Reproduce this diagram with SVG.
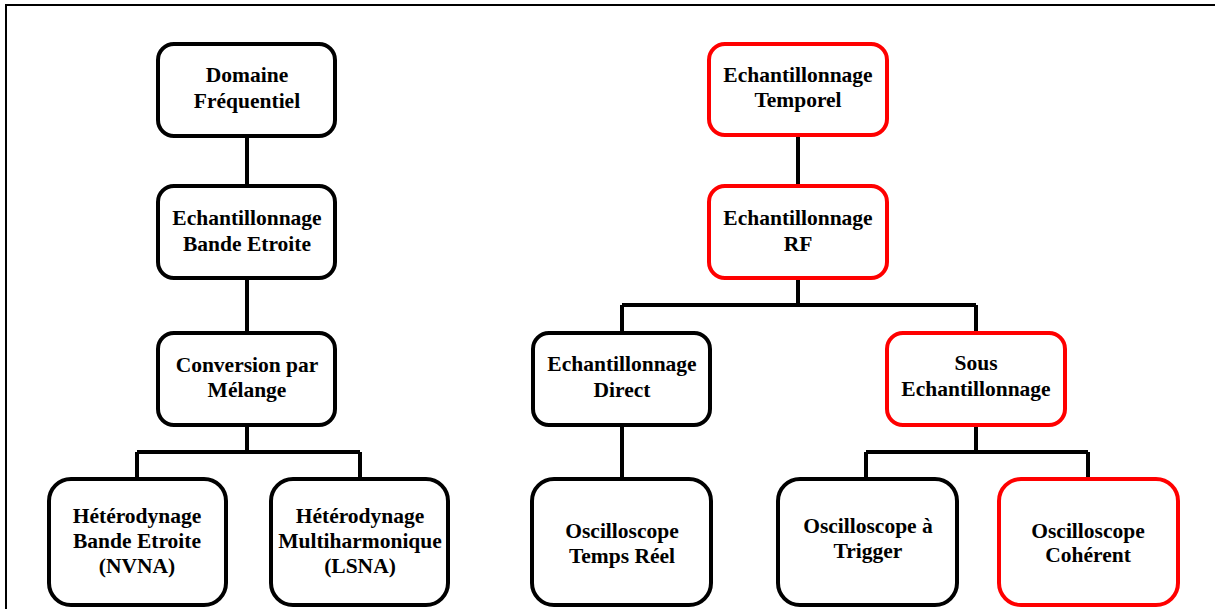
<svg xmlns="http://www.w3.org/2000/svg" width="1215" height="609" viewBox="0 0 1215 609">
<style>
.frame{fill:none;stroke:#000;stroke-width:2}
.n{fill:#fff;stroke:#000;stroke-width:4}
.r{stroke:#ff0000}
.c{fill:none;stroke:#000;stroke-width:4}
text{font-family:"Liberation Serif","Times New Roman",serif;font-weight:bold;font-size:21.5px;text-anchor:middle;fill:#000}
</style>
<rect width="1215" height="609" fill="#fff"/>
<rect class="frame" x="6" y="5" width="1300" height="700"/>
<g id="connectors">
<path class="c" d="M247 137V185M247 278V332M247 425V452M137 452H360M137 452V478M360 452V478"/>
<path class="c" d="M798 135V185M798 278V305M622 305H976M622 305V332M976 305V332M622 425V478M976 425V452M866 452H1088M866 452V478M1088 452V478"/>
</g>
<g id="n1"><rect class="n" x="158" y="44" width="177" height="92" rx="16"/><text x="247" y="82">Domaine</text><text x="247" y="108">Fréquentiel</text></g>
<g id="n2"><rect class="n" x="158" y="186" width="177" height="92" rx="16"/><text x="247" y="225">Echantillonnage</text><text x="247" y="251">Bande Etroite</text></g>
<g id="n3"><rect class="n" x="158" y="333" width="177" height="92" rx="16"/><text x="247" y="372">Conversion par</text><text x="247" y="397">Mélange</text></g>
<g id="n4"><rect class="n" x="49" y="479" width="177" height="126" rx="22"/><text x="137" y="523">Hétérodynage</text><text x="137" y="548">Bande Etroite</text><text x="137" y="573">(NVNA)</text></g>
<g id="n5"><rect class="n" x="271" y="479" width="177" height="126" rx="22"/><text x="360" y="523">Hétérodynage</text><text x="360" y="548">Multiharmonique</text><text x="360" y="573">(LSNA)</text></g>
<g id="n6"><rect class="n r" x="709" y="44" width="178" height="91" rx="16"/><text x="798" y="82">Echantillonnage</text><text x="798" y="107">Temporel</text></g>
<g id="n7"><rect class="n r" x="709" y="186" width="178" height="92" rx="16"/><text x="798" y="225">Echantillonnage</text><text x="798" y="251">RF</text></g>
<g id="n8"><rect class="n" x="533" y="333" width="177" height="92" rx="16"/><text x="622" y="371">Echantillonnage</text><text x="622" y="397">Direct</text></g>
<g id="n9"><rect class="n r" x="887" y="333" width="178" height="92" rx="16"/><text x="976" y="370">Sous</text><text x="976" y="396">Echantillonnage</text></g>
<g id="n10"><rect class="n" x="532" y="479" width="179" height="126" rx="22"/><text x="622" y="538">Oscilloscope</text><text x="622" y="563">Temps Réel</text></g>
<g id="n11"><rect class="n" x="778" y="479" width="179" height="126" rx="22"/><text x="868" y="533">Oscilloscope à</text><text x="868" y="558">Trigger</text></g>
<g id="n12"><rect class="n r" x="999" y="479" width="179" height="126" rx="22"/><text x="1088" y="538">Oscilloscope</text><text x="1088" y="562">Cohérent</text></g>
</svg>
